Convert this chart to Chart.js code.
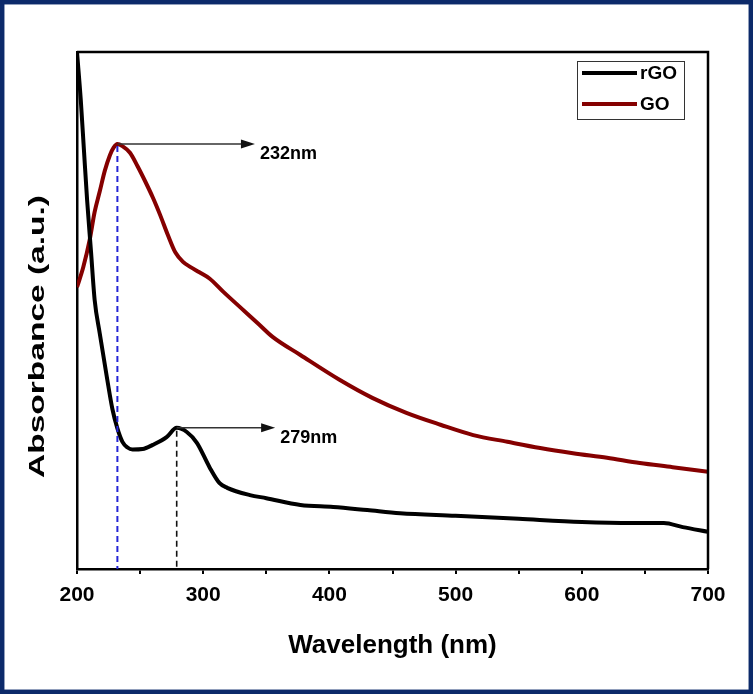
<!DOCTYPE html>
<html>
<head>
<meta charset="utf-8">
<script src="https://cdn.jsdelivr.net/npm/chart.js@4.4.1/dist/chart.umd.min.js"></script>
<style>
  body { margin: 0; background: #fff; }
  canvas { display: block; }
</style>
</head>
<body>
<canvas id="myChart" width="753" height="694"></canvas>
<script>
// UV-vis spectra, absorbance in arbitrary units
const wavelengthRGO = [200, 203, 205.5, 208, 211, 214, 218, 224, 228, 232, 236, 240, 244, 252, 260, 271, 279, 287, 295, 305, 313, 319, 337, 350, 377, 403, 430, 456, 500, 550, 600, 640, 665, 680, 700];
const absRGO = [1.0, 0.907, 0.81, 0.714, 0.617, 0.52, 0.456, 0.366, 0.31, 0.272, 0.246, 0.235, 0.231, 0.232, 0.24, 0.255, 0.273, 0.265, 0.244, 0.197, 0.166, 0.157, 0.143, 0.137, 0.124, 0.12, 0.114, 0.108, 0.103, 0.097, 0.091, 0.089, 0.089, 0.081, 0.072];

const wavelengthGO = [200, 205, 210, 214, 218, 222, 226, 229, 232, 236, 242, 248, 254, 260, 266, 272, 278, 284, 290, 297, 305, 316, 329, 343, 355, 377, 408, 434, 461, 488, 514, 541, 567, 593, 620, 646, 672, 700];
const absGO = [0.545, 0.584, 0.636, 0.691, 0.73, 0.77, 0.8, 0.815, 0.822, 0.818, 0.805, 0.779, 0.75, 0.719, 0.684, 0.646, 0.612, 0.594, 0.584, 0.574, 0.562, 0.536, 0.507, 0.476, 0.449, 0.414, 0.366, 0.331, 0.302, 0.279, 0.259, 0.246, 0.234, 0.224, 0.215, 0.205, 0.197, 0.188];

const seriesLabels = ['rGO', 'GO'];
const seriesColors = ['#000000', '#850000'];
const xTicks = [200, 300, 400, 500, 600, 700];
const peakGO = 232;
const peakRGO = 279;
const yTitle = 'Absorbance (a.u.)';

const FONT = 'Arial, "Liberation Sans", sans-serif';

const toPoints = (xs, ys) => xs.map((x, i) => ({ x: x, y: ys[i] }));

// white page + navy frame
const framePlugin = {
    id: 'frame',
    beforeDraw(chart) {
        const c = chart.ctx;
        c.save();
        c.fillStyle = '#fff';
        c.fillRect(0, 0, chart.width, chart.height);
        c.restore();
    },
    afterDraw(chart) {
        const c = chart.ctx;
        c.save();
        c.strokeStyle = '#0c2a6a';
        c.lineWidth = 4.5;
        c.strokeRect(2.2, 2.2, chart.width - 4.4, chart.height - 4.4);
        c.restore();
    }
};

// top / right sides of the box, y title, legend
const boxPlugin = {
    id: 'box',
    afterDraw(chart) {
        const c = chart.ctx;
        const a = chart.chartArea;
        c.save();
        c.strokeStyle = '#000';
        c.lineWidth = 2.5;
        c.beginPath();
        c.moveTo(a.left, a.top);
        c.lineTo(a.right, a.top);
        c.lineTo(a.right, a.bottom);
        c.stroke();

        // y title, stretched along its length like the original
        c.font = 'bold 22px ' + FONT;
        c.fillStyle = '#000';
        c.textAlign = 'center';
        c.textBaseline = 'middle';
        const w = c.measureText(yTitle).width;
        c.translate(38, 336.5);
        c.rotate(-Math.PI / 2);
        c.scale(283 / w, 1);
        c.fillText(yTitle, 0, 0);
        c.restore();

        // legend box
        c.save();
        c.strokeStyle = '#333';
        c.lineWidth = 1;
        c.strokeRect(577.5, 61.5, 107, 58);
        c.font = 'bold 19px ' + FONT;
        c.textAlign = 'left';
        c.textBaseline = 'middle';
        const rows = [73, 104];
        chart.data.datasets.forEach((ds, i) => {
            c.strokeStyle = ds.borderColor;
            c.lineWidth = 4;
            c.beginPath();
            c.moveTo(582, rows[i]);
            c.lineTo(637, rows[i]);
            c.stroke();
            c.fillStyle = '#000';
            c.fillText(ds.label, 640, rows[i] + 1);
        });
        c.restore();
    }
};

// peak markers: dashed drops and arrows with labels
function drawArrow(c, x1, y, x2) {
    c.strokeStyle = '#333';
    c.fillStyle = '#111';
    c.lineWidth = 1.5;
    c.beginPath();
    c.moveTo(x1, y);
    c.lineTo(x2 - 10, y);
    c.stroke();
    c.beginPath();
    c.moveTo(x2, y);
    c.lineTo(x2 - 14, y - 4.5);
    c.lineTo(x2 - 14, y + 4.5);
    c.closePath();
    c.fill();
}

const peakPlugin = {
    id: 'peaks',
    afterDatasetsDraw(chart) {
        const c = chart.ctx;
        const xs = chart.scales.x;
        const ys = chart.scales.y;
        const goY = ys.getPixelForValue(absGO[wavelengthGO.indexOf(peakGO)]);
        const rgoY = ys.getPixelForValue(absRGO[wavelengthRGO.indexOf(peakRGO)]);
        const bottom = chart.chartArea.bottom;
        c.save();

        c.setLineDash([6, 4]);
        c.lineWidth = 2;
        c.strokeStyle = '#2424d6';
        c.beginPath();
        c.moveTo(xs.getPixelForValue(peakGO), goY + 2);
        c.lineTo(xs.getPixelForValue(peakGO), bottom);
        c.stroke();

        c.lineWidth = 1.6;
        c.strokeStyle = '#111';
        c.beginPath();
        c.moveTo(xs.getPixelForValue(peakRGO), rgoY + 3);
        c.lineTo(xs.getPixelForValue(peakRGO), bottom);
        c.stroke();
        c.setLineDash([]);

        drawArrow(c, xs.getPixelForValue(peakGO), goY, xs.getPixelForValue(341));
        drawArrow(c, xs.getPixelForValue(peakRGO), rgoY, xs.getPixelForValue(357));

        c.font = 'bold 18px ' + FONT;
        c.fillStyle = '#000';
        c.textAlign = 'left';
        c.textBaseline = 'middle';
        c.fillText(peakGO + 'nm', xs.getPixelForValue(345), goY + 10);
        c.fillText(peakRGO + 'nm', xs.getPixelForValue(361), rgoY + 10);
        c.restore();
    }
};

const ctx = document.getElementById('myChart');

new Chart(ctx, {
    type: 'line',
    plugins: [framePlugin, boxPlugin, peakPlugin],
    data: {
        datasets: [
            {
                label: seriesLabels[0],
                data: toPoints(wavelengthRGO, absRGO),
                borderColor: seriesColors[0],
                borderWidth: 4,
                pointRadius: 0,
                cubicInterpolationMode: 'monotone',
            },
            {
                label: seriesLabels[1],
                data: toPoints(wavelengthGO, absGO),
                borderColor: seriesColors[1],
                borderWidth: 4,
                pointRadius: 0,
                cubicInterpolationMode: 'monotone',
            },
        ],
    },
    options: {
        responsive: false,
        devicePixelRatio: 1,
        animation: false,
        layout: { padding: { top: 52, right: 45, left: 0, bottom: 0 } },
        plugins: {
            legend: { display: false },
            tooltip: { enabled: false },
        },
        scales: {
            x: {
                type: 'linear',
                min: 200,
                max: 700,
                afterFit: s => { s.height = 125; },
                afterBuildTicks: s => {
                    const t = [];
                    for (let v = xTicks[0]; v <= xTicks[xTicks.length - 1]; v += 50) t.push({ value: v });
                    s.ticks = t;
                },
                ticks: {
                    autoSkip: false,
                    maxRotation: 0,
                    padding: 9,
                    color: '#000',
                    font: { family: FONT, size: 21, weight: 'bold' },
                    callback: v => xTicks.includes(v) ? String(v) : '',
                },
                grid: {
                    drawOnChartArea: false,
                    drawTicks: true,
                    tickLength: 5,
                    color: '#000',
                    lineWidth: 2,
                },
                border: { display: true, color: '#000', width: 2.5 },
                title: {
                    display: true,
                    text: 'Wavelength (nm)',
                    color: '#000',
                    font: { family: FONT, size: 26, weight: 'bold' },
                    padding: { top: 0, bottom: 33 },
                },
            },
            y: {
                min: 0,
                max: 1,
                afterFit: s => { s.width = 77; },
                ticks: { display: false },
                grid: { display: false },
                border: { display: true, color: '#000', width: 2.5 },
            },
        },
    },
});
</script>
</body>
</html>
